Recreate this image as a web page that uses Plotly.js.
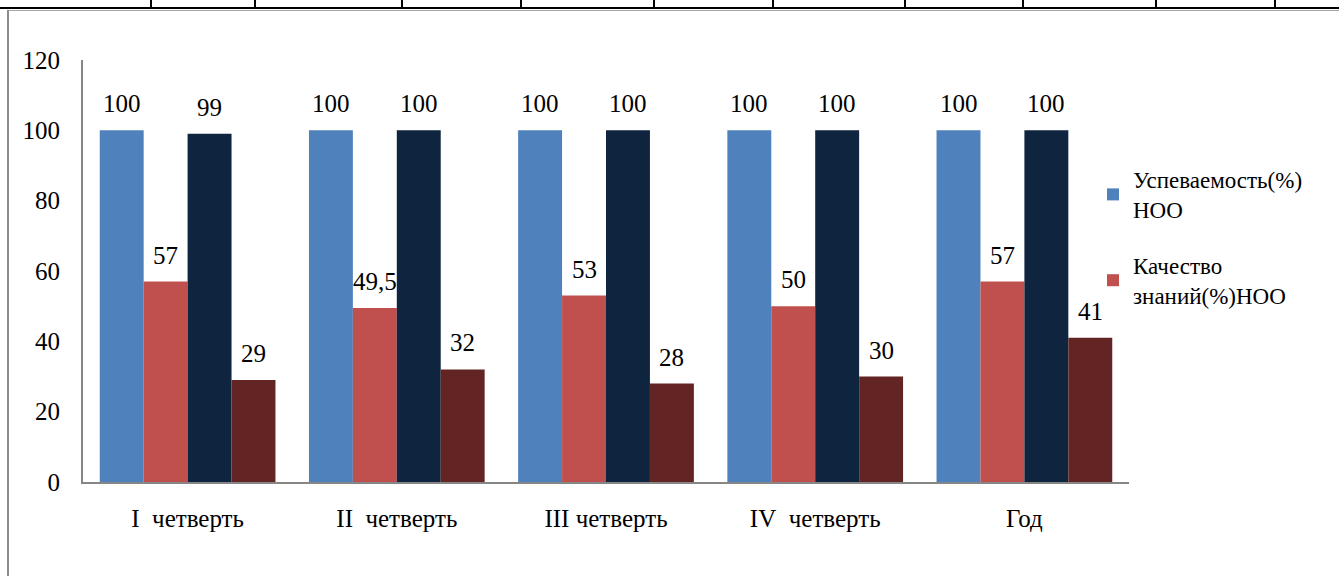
<!DOCTYPE html>
<html>
<head>
<meta charset="utf-8">
<script src="https://cdn.plot.ly/plotly-3.0.1.min.js"></script>
<style>
  html, body { margin: 0; padding: 0; background: #fff; }
  #wrap { position: relative; width: 1339px; height: 576px; overflow: hidden; }
  #chart { position: absolute; left: 0; top: 0; width: 1339px; height: 576px; }
  .deco { position: absolute; pointer-events: none; }
</style>
</head>
<body>
<div id="wrap">
  <div id="chart"></div>
</div>
<script>
// ---- data ----
const categories = ["I\u00a0\u00a0четверть", "II\u00a0\u00a0четверть", "III четверть", "IV\u00a0\u00a0четверть", "Год"];
const seriesNames = ["Успеваемость(%)<br>НОО", "Качество<br>знаний(%)НОО", "Успеваемость(%) ООО", "Качество знаний(%) ООО"];
const uspevNOO   = [100, 100, 100, 100, 100];
const kachNOO    = [57, 49.5, 53, 50, 57];
const uspevOOO   = [99, 100, 100, 100, 100];
const kachOOO    = [29, 32, 28, 30, 41];
const seriesValues = [uspevNOO, kachNOO, uspevOOO, kachOOO];
const seriesColors = ["#4F81BD", "#C0504D", "#0F243E", "#632523"];
const showInLegend = [true, true, false, false];
const yTicks = [0, 20, 40, 60, 80, 100, 120];

// ---- layout constants ----
const W = 1339, H = 576;
const M = { l: 83, r: 210, t: 60, b: 94 };
const bargap = 0.16;
const FONT = "Liberation Serif, Times New Roman, serif";

const plotW = W - M.l - M.r;
const catW = plotW / categories.length;
const barW = catW * (1 - bargap) / seriesValues.length;

const traces = seriesValues.map((vals, i) => ({
  type: "bar",
  x: categories,
  y: vals,
  name: seriesNames[i],
  legendgroup: "g" + i,
  showlegend: showInLegend[i],
  marker: { color: seriesColors[i], line: { width: 0 } },
  hoverinfo: "skip"
}));

const fmt = v => String(v).replace(".", ",");
const annotations = [];
seriesValues.forEach((vals, i) => {
  vals.forEach((v, j) => {
    annotations.push({
      xref: "x", yref: "y",
      x: categories[j], y: v,
      xshift: (i - (seriesValues.length - 1) / 2) * barW,
      yshift: 11,
      yanchor: "bottom", xanchor: "center",
      text: fmt(v), showarrow: false,
      font: { family: FONT, size: 25, color: "#000" }
    });
  });
});

const layout = {
  width: W, height: H,
  margin: M,
  paper_bgcolor: "rgba(0,0,0,0)",
  plot_bgcolor: "rgba(0,0,0,0)",
  barmode: "group",
  bargap: bargap,
  bargroupgap: 0,
  font: { family: FONT, size: 24, color: "#000" },
  xaxis: {
    type: "category",
    showgrid: false, zeroline: false,
    showline: true, linecolor: "#868686", linewidth: 2,
    ticks: "", ticklabelstandoff: 13,
    tickfont: { family: FONT, size: 25, color: "#000" },
    fixedrange: true
  },
  yaxis: {
    range: [0, 120],
    tickvals: yTicks,
    ticktext: yTicks.map(String),
    showgrid: false, zeroline: false,
    showline: true, linecolor: "#868686", linewidth: 2,
    ticks: "", ticklabelstandoff: 16,
    tickfont: { family: FONT, size: 25, color: "#000" },
    fixedrange: true
  },
  legend: {
    x: (1093 - M.l) / plotW, xanchor: "left",
    y: (H - M.b - 158) / (H - M.t - M.b), yanchor: "top",
    bgcolor: "rgba(0,0,0,0)",
    font: { family: FONT, size: 23, color: "#000" },
    traceorder: "grouped",
    tracegroupgap: 23,
    itemwidth: 30
  },
  annotations: annotations,
  showlegend: true
};

Plotly.newPlot("chart", traces, layout, { displayModeBar: false, staticPlot: true }).then(() => {
  const wrap = document.getElementById("wrap");
  function addLine(l, t, w, h, color) {
    const d = document.createElement("div");
    d.className = "deco";
    d.style.left = l + "px"; d.style.top = t + "px";
    d.style.width = w + "px"; d.style.height = h + "px";
    d.style.background = color;
    wrap.appendChild(d);
  }
  // document table border above the chart
  addLine(0, 7, W, 2, "#000");
  [150, 254, 401, 520, 653, 772, 904, 1022, 1155, 1274].forEach(x => addLine(x, 0, 2, 8, "#000"));
  // chart frame
  addLine(8, 10, W - 8, 1, "#a6a6a6");
  addLine(7, 10, 2, H - 10, "#8c8c8c");
});
</script>
</body>
</html>
